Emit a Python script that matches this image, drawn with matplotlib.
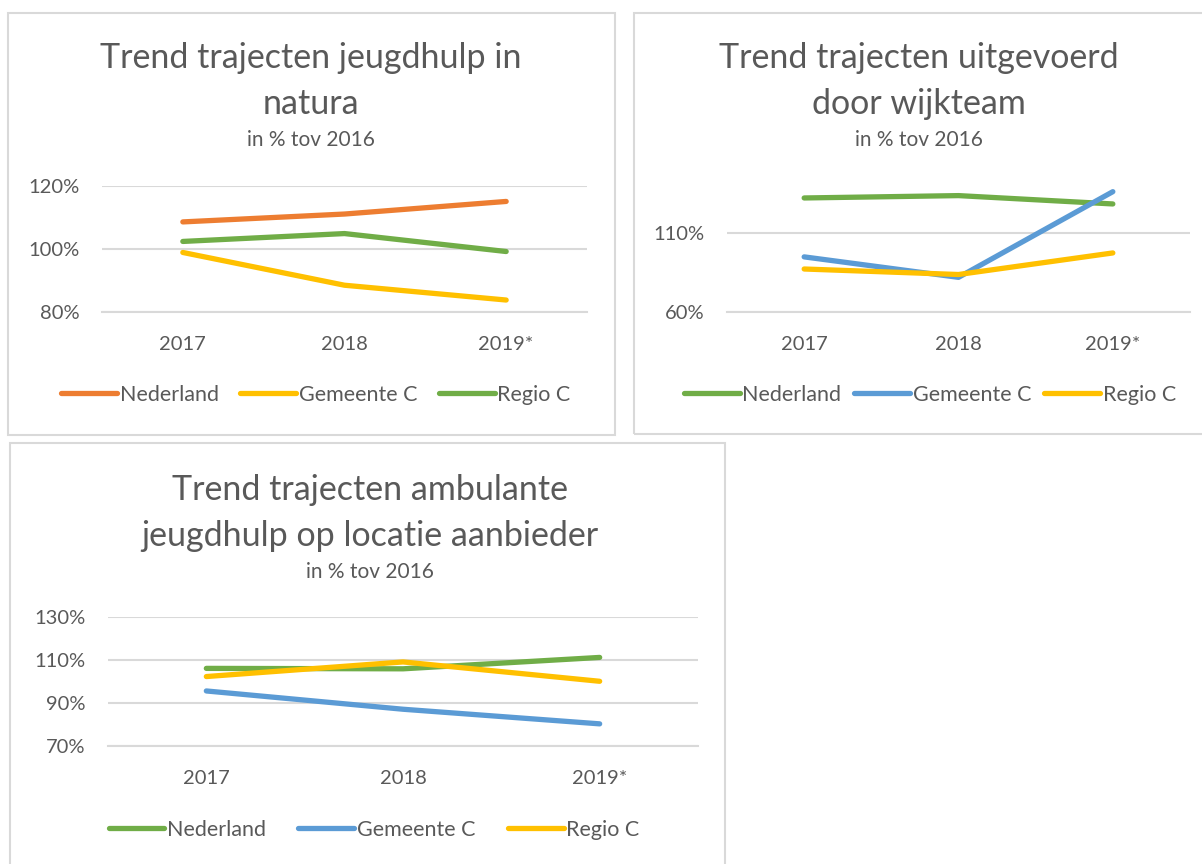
import matplotlib.pyplot as plt
from matplotlib.patches import Rectangle

W, H = 1202, 864

years = ["2017", "2018", "2019*"]

# panel 1: jeugdhulp in natura
p1_nederland = [108.6, 111.1, 115.1]
p1_gemeente = [98.9, 88.5, 83.8]
p1_regio = [102.4, 104.9, 99.2]

# panel 2: uitgevoerd door wijkteam
p2_nederland = [132.4, 133.9, 128.6]
p2_gemeente = [95.0, 82.0, 136.4]
p2_regio = [87.3, 83.8, 97.5]

# panel 3: ambulante jeugdhulp op locatie aanbieder
p3_nederland = [106.1, 105.9, 111.2]
p3_gemeente = [95.6, 87.1, 80.3]
p3_regio = [102.3, 109.1, 100.1]

ORANGE = "#ED7D31"
YELLOW = "#FFC000"
GREEN = "#70AD47"
BLUE = "#5B9BD5"
GRID = "#D9D9D9"
TEXT = "#595959"

plt.rcParams['font.family'] = ['Lato', 'DejaVu Sans']

fig = plt.figure(figsize=(W / 100, H / 100), dpi=100)


def fx(x):
    return x / W


def fy(y):
    return 1 - y / H


def box(x0, y0, x1, y1):
    fig.patches.append(Rectangle((fx(x0), fy(y1)), fx(x1 - x0), (y1 - y0) / H,
                                 transform=fig.transFigure, fill=False,
                                 edgecolor=GRID, lw=1.5))


def panel(rect, series, ylim, yticks, title, title_xy, sub_y, leg_xy, colsp):
    x0, y0, x1, y1 = rect
    ax = fig.add_axes([fx(x0), fy(y1), fx(x1 - x0), (y1 - y0) / H])
    xs = range(len(years))
    for label, vals, color in series:
        ax.plot(xs, vals, color=color, lw=3.8, solid_capstyle='round', label=label)
    ax.set_xlim(-0.5, len(years) - 0.5)
    ax.set_ylim(*ylim)
    ax.set_yticks(yticks)
    ax.set_yticklabels([f"{t}%" for t in yticks])
    ax.set_xticks(list(xs))
    ax.set_xticklabels(years)
    ax.grid(axis='y', color=GRID, lw=1.5)
    ax.set_axisbelow(True)
    for s in ['top', 'right', 'left']:
        ax.spines[s].set_visible(False)
    ax.spines['bottom'].set_color(GRID)
    ax.spines['bottom'].set_linewidth(1.5)
    ax.tick_params(length=0, labelsize=14.5, colors=TEXT)
    ax.tick_params(axis='y', pad=16)
    ax.tick_params(axis='x', pad=17)
    # two title lines, placed one by one
    for i, line in enumerate(title):
        fig.text(fx(title_xy[0]), fy(title_xy[1] + 46 * i), line, ha='center', va='center',
                 fontsize=24.5, color=TEXT)
    fig.text(fx(title_xy[0]), fy(sub_y), "in % tov 2016", ha='center', va='center',
             fontsize=15, color=TEXT)
    ax.legend(loc='center', bbox_to_anchor=(fx(leg_xy[0]), fy(leg_xy[1])),
              bbox_transform=fig.transFigure, ncol=3, frameon=False,
              fontsize=15.5, handlelength=2.6, handletextpad=0.12,
              columnspacing=colsp, labelcolor=TEXT)
    return ax


box(8, 13, 615, 435)
box(634, 13, 1215, 434)
box(10, 443, 725, 875)

panel((102, 186, 587, 312),
      [("Nederland", p1_nederland, ORANGE),
       ("Gemeente C", p1_gemeente, YELLOW),
       ("Regio C", p1_regio, GREEN)],
      (80, 120), [80, 100, 120],
      ["Trend trajecten jeugdhulp in", "natura"], (311, 58), 140, (316, 395), 1.0)

panel((727, 186, 1190, 312),
      [("Nederland", p2_nederland, GREEN),
       ("Gemeente C", p2_gemeente, BLUE),
       ("Regio C", p2_regio, YELLOW)],
      (60, 140), [60, 110],
      ["Trend trajecten uitgevoerd", "door wijkteam"], (919, 58), 140, (930, 395), 0.6)

panel((108, 617, 698, 746),
      [("Nederland", p3_nederland, GREEN),
       ("Gemeente C", p3_gemeente, BLUE),
       ("Regio C", p3_regio, YELLOW)],
      (70, 130), [70, 90, 110, 130],
      ["Trend trajecten ambulante", "jeugdhulp op locatie aanbieder"], (370, 490), 572, (374, 830), 1.5)

fig.savefig("out.png", dpi=100)
